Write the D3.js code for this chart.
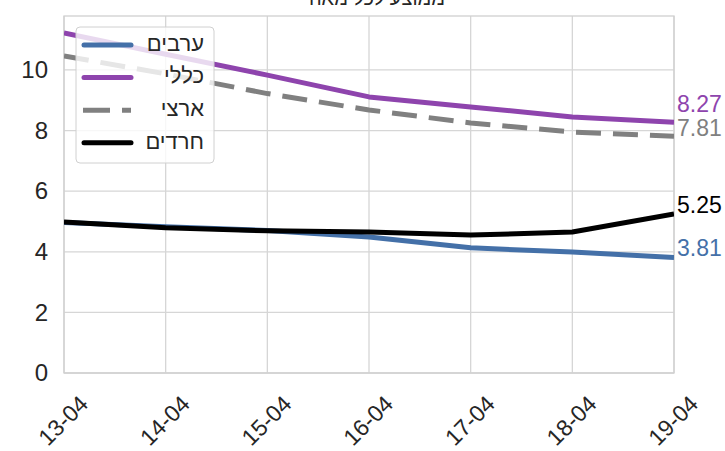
<!DOCTYPE html>
<html><head><meta charset="utf-8">
<script src="https://cdn.jsdelivr.net/npm/d3@7"></script>
<style>body{margin:0;background:#fff}svg{display:block;font-family:"Liberation Sans",Arial,sans-serif}</style>
</head><body><svg id="c" width="725" height="451"></svg>
<script>
const dates = ["13-04","14-04","15-04","16-04","17-04","18-04","19-04"];
const arabs = [4.97, 4.83, 4.70, 4.49, 4.13, 3.99, 3.81];
const general = [11.22, 10.52, 9.83, 9.11, 8.78, 8.45, 8.27];
const national = [10.46, 9.87, 9.22, 8.68, 8.25, 7.95, 7.81];
const haredim = [4.98, 4.79, 4.69, 4.65, 4.55, 4.65, 5.25];
const yTicks = [0, 2, 4, 6, 8, 10];
const seriesNames = ["ערבים", "כללי", "ארצי", "חרדים"];
const endLabels = ["3.81", "8.27", "7.81", "5.25"];
const titleText = "ממוצע לכל מאה";

const series = [
  {name: seriesNames[0], values: arabs, color: "#4470a8", dash: null, label: endLabels[0], off: -7.5},
  {name: seriesNames[1], values: general, color: "#8e44ad", dash: null, label: endLabels[1], off: -16},
  {name: seriesNames[2], values: national, color: "#808080", dash: "25,12", label: endLabels[2], off: -6},
  {name: seriesNames[3], values: haredim, color: "#000000", dash: null, label: endLabels[3], off: -7}
];

const svg = d3.select("#c");
const L = 64, R = 674, T = 16, B = 373;
const x = d3.scalePoint().domain(dates).range([L, R]);
const y = d3.scaleLinear().domain([0, 11.78]).range([B, T]);

// title (cut off by the top edge, as in the reference)
svg.append("text").attr("x", 377).attr("y", 5).attr("text-anchor", "middle")
  .attr("font-size", 20).attr("fill", "#262626").text(titleText);

// grid
const g = svg.append("g");
g.selectAll(".gx").data(dates).enter().append("line")
  .attr("x1", d => x(d)).attr("x2", d => x(d)).attr("y1", T).attr("y2", B)
  .attr("stroke", "#d6d6d6").attr("stroke-width", 1.3);
g.selectAll(".gy").data(yTicks).enter().append("line")
  .attr("x1", L).attr("x2", R).attr("y1", d => y(d)).attr("y2", d => y(d))
  .attr("stroke", "#d6d6d6").attr("stroke-width", 1.3);
g.append("rect").attr("x", L).attr("y", T).attr("width", R - L).attr("height", B - T)
  .attr("fill", "none").attr("stroke", "#d0d0d0").attr("stroke-width", 1.3);

// y axis labels
const yAxis = d3.axisLeft(y).tickValues(yTicks).tickSize(0).tickPadding(16);
const ya = svg.append("g").attr("transform", `translate(${L},0)`).call(yAxis);
ya.select(".domain").remove();
ya.selectAll("text").attr("font-size", 24).attr("fill", "#262626")
  .attr("font-family", "Liberation Sans, Arial, sans-serif");

// x axis labels
const xAxis = d3.axisBottom(x).tickSize(0);
const xa = svg.append("g").attr("transform", `translate(0,${B})`).call(xAxis);
xa.select(".domain").remove();
xa.selectAll("text").attr("font-size", 23).attr("fill", "#262626")
  .attr("font-family", "Liberation Sans, Arial, sans-serif")
  .attr("text-anchor", "middle").attr("dy", null).attr("y", 0)
  .attr("transform", "translate(0,49) rotate(-45)")
  .attr("dominant-baseline", "middle");

// lines
const line = d3.line().x((d, i) => x(dates[i])).y(d => y(d));
svg.append("clipPath").attr("id", "pc").append("rect")
  .attr("x", L).attr("y", T).attr("width", R - L).attr("height", B - T);
const lg = svg.append("g").attr("clip-path", "url(#pc)");
series.forEach(s => {
  lg.append("path").datum(s.values).attr("d", line).attr("fill", "none")
    .attr("stroke", s.color).attr("stroke-width", 5)
    .attr("stroke-dasharray", s.dash).attr("stroke-linejoin", "round");
});

// end labels
series.forEach(s => {
  const v = s.values[s.values.length - 1];
  svg.append("text").attr("x", R + 3).attr("y", y(v) + s.off).attr("dominant-baseline", "middle")
    .attr("font-size", 23).attr("fill", s.color).text(s.label);
});

// legend
const lgd = svg.append("g");
lgd.append("rect").attr("x", 76).attr("y", 27).attr("width", 138).attr("height", 136)
  .attr("rx", 4).attr("fill", "#fff").attr("fill-opacity", 0.8)
  .attr("stroke", "#d0d0d0").attr("stroke-width", 1);
series.forEach((s, i) => {
  const cy = 45 + i * 32.6;
  lgd.append("line").attr("x1", s.dash ? 83 : 84).attr("x2", 131).attr("y1", cy).attr("y2", cy)
    .attr("stroke", s.color).attr("stroke-width", 5)
    .attr("stroke-linecap", s.dash ? "butt" : "round")
    .attr("stroke-dasharray", s.dash ? "27,12" : null);
  lgd.append("text").attr("x", 204).attr("y", cy).attr("text-anchor", "end")
    .attr("dominant-baseline", "middle").attr("font-size", 22).attr("fill", "#262626")
    .attr("font-family", "Liberation Sans, Arial, sans-serif").text(s.name);
});
</script></body></html>
